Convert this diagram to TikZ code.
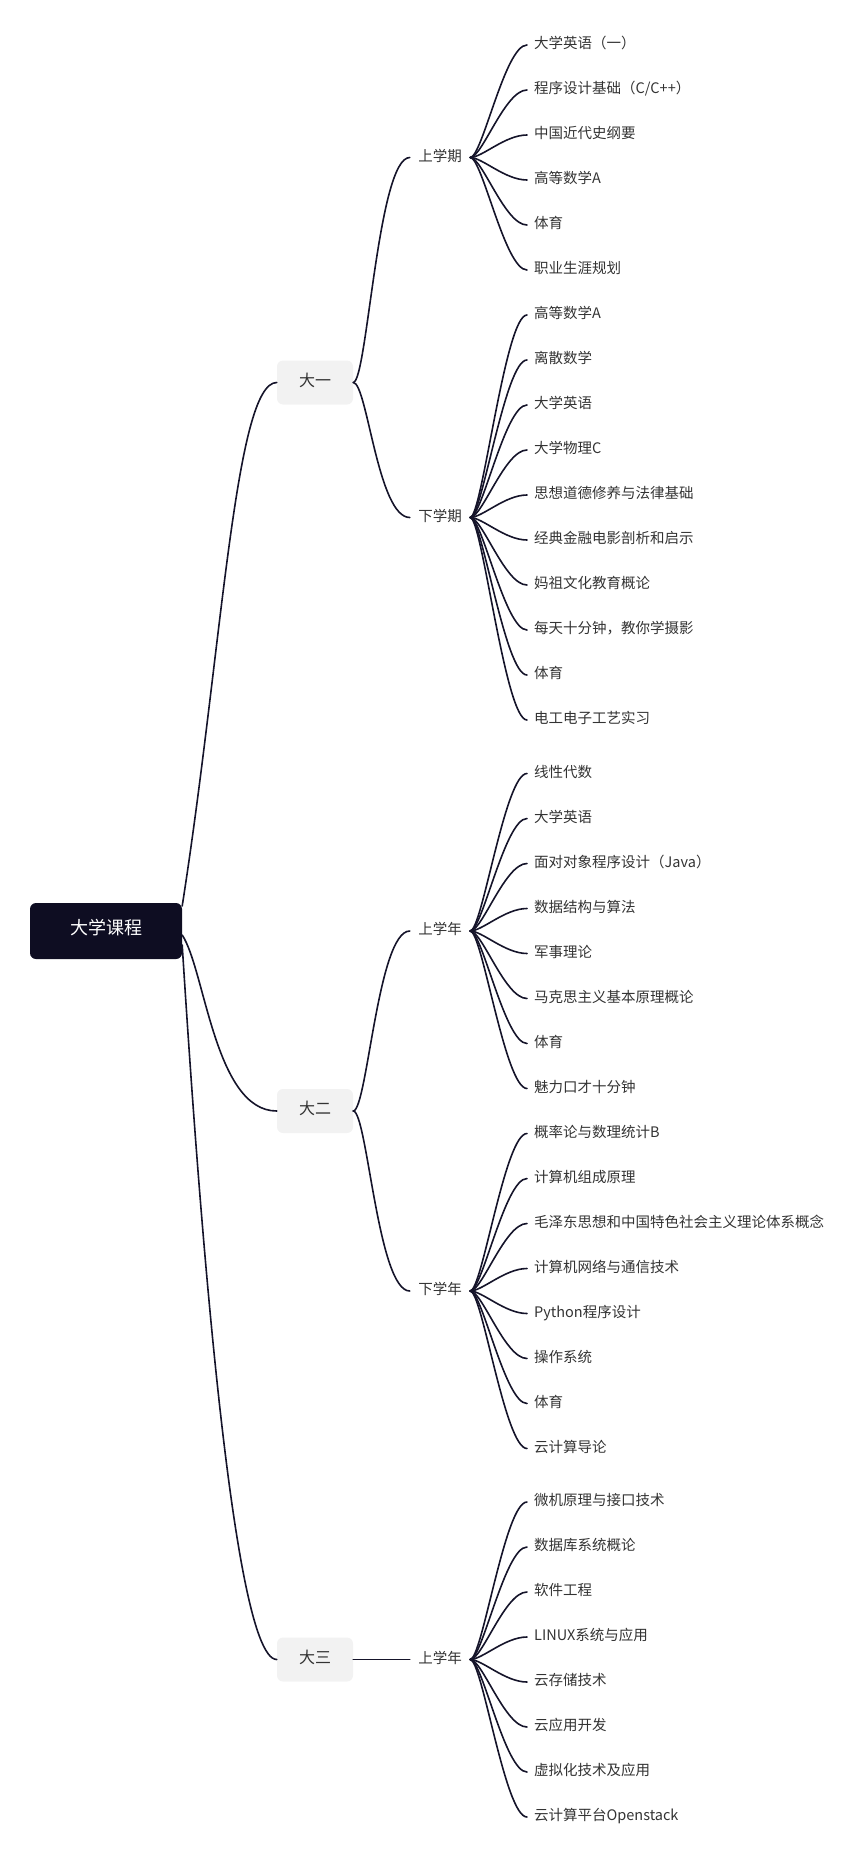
\documentclass[tikz,border=0pt]{standalone}
\usepackage{fontspec}
\setmainfont{Noto Sans CJK SC}
\usetikzlibrary{calc}
\definecolor{rootc}{HTML}{0E0D22}
\definecolor{grayc}{HTML}{F2F2F2}
\definecolor{txtc}{HTML}{333333}
\definecolor{linec}{HTML}{15142A}
\tikzset{
  rootnode/.style={fill=rootc, rounded corners=6pt, minimum width=152pt, minimum height=56pt, inner sep=0pt,
    text=white, font=\fontsize{18}{18}\selectfont, text height=0.88em, text depth=0.12em},
  lvone/.style={fill=grayc, rounded corners=6pt, minimum width=76pt, minimum height=44pt, inner sep=0pt,
    text=txtc, font=\fontsize{16}{16}\selectfont, text height=0.88em, text depth=0.12em},
  lvtwo/.style={inner xsep=8.25pt, inner ysep=2pt, text=txtc, font=\fontsize{14.5}{14.5}\selectfont,
    text height=0.88em, text depth=0.12em},
  leaf/.style={anchor=west, inner xsep=7pt, inner ysep=2pt, text=txtc, font=\fontsize{14.5}{14.5}\selectfont,
    text height=0.88em, text depth=0.12em},
  conn/.style={draw=linec, line width=1.6pt, line cap=round}
}
\begin{document}
\begin{tikzpicture}[x=1pt,y=-1pt]
\useasboundingbox (0,0) rectangle (853,1862);

% root and first level
\node[rootnode] (root) at (106,931) {大学课程};
\node[lvone] (y1) at (315,382.5) {大一};
\node[lvone] (y2) at (315,1111) {大二};
\node[lvone] (y3) at (315,1659.5) {大三};

% second level
\node[lvtwo] (s1) at (440,157.5) {上学期};
\node[lvtwo] (s2) at (440,517.5) {下学期};
\node[lvtwo] (s3) at (440,931) {上学年};
\node[lvtwo] (s4) at (440,1291) {下学年};
\node[lvtwo] (s5) at (440,1659.5) {上学年};

% root connectors
\draw[conn] ($(root.east)+(0,-25)$) .. controls +(40,-256) and +(-42,0) .. (y1.west);
\draw[conn] ($(root.east)+(0,4)$) .. controls +(23,35) and +(-62,0) .. (y2.west);
\draw[conn] ($(root.east)+(0,14)$) .. controls +(13,205) and +(-47,0) .. (y3.west);

% first to second level connectors
\draw[conn] (y1.east) .. controls +(14,0) and +(-32,0) .. (s1.west);
\draw[conn] (y1.east) .. controls +(14,0) and +(-32,0) .. (s2.west);
\draw[conn] (y2.east) .. controls +(14,0) and +(-32,0) .. (s3.west);
\draw[conn] (y2.east) .. controls +(14,0) and +(-32,0) .. (s4.west);
\draw[conn] (y3.east) -- (s5.west);

% leaves
\foreach \t [count=\i] in {大学英语（一）, 程序设计基础（C/C++）, 中国近代史纲要, 高等数学A, 体育, 职业生涯规划}{
  \node[leaf] (a\i) at (527,{45*\i}) {\t};
  \draw[conn] (s1.east) .. controls +(12,0) and +(-22,0) .. (a\i.west);
}
\foreach \t [count=\i] in {高等数学A, 离散数学, 大学英语, 大学物理C, 思想道德修养与法律基础, 经典金融电影剖析和启示, 妈祖文化教育概论, 每天十分钟，教你学摄影, 体育, 电工电子工艺实习}{
  \node[leaf] (b\i) at (527,{270+45*\i}) {\t};
  \draw[conn] (s2.east) .. controls +(12,0) and +(-22,0) .. (b\i.west);
}
\foreach \t [count=\i] in {线性代数, 大学英语, 面对对象程序设计（Java）, 数据结构与算法, 军事理论, 马克思主义基本原理概论, 体育, 魅力口才十分钟}{
  \node[leaf] (c\i) at (527,{728.5+45*\i}) {\t};
  \draw[conn] (s3.east) .. controls +(12,0) and +(-22,0) .. (c\i.west);
}
\foreach \t [count=\i] in {概率论与数理统计B, 计算机组成原理, 毛泽东思想和中国特色社会主义理论体系概念, 计算机网络与通信技术, Python程序设计, 操作系统, 体育, 云计算导论}{
  \node[leaf] (d\i) at (527,{1088.5+45*\i}) {\t};
  \draw[conn] (s4.east) .. controls +(12,0) and +(-22,0) .. (d\i.west);
}
\foreach \t [count=\i] in {微机原理与接口技术, 数据库系统概论, 软件工程, LINUX系统与应用, 云存储技术, 云应用开发, 虚拟化技术及应用, 云计算平台Openstack}{
  \node[leaf] (e\i) at (527,{1457+45*\i}) {\t};
  \draw[conn] (s5.east) .. controls +(12,0) and +(-22,0) .. (e\i.west);
}
\end{tikzpicture}
\end{document}
